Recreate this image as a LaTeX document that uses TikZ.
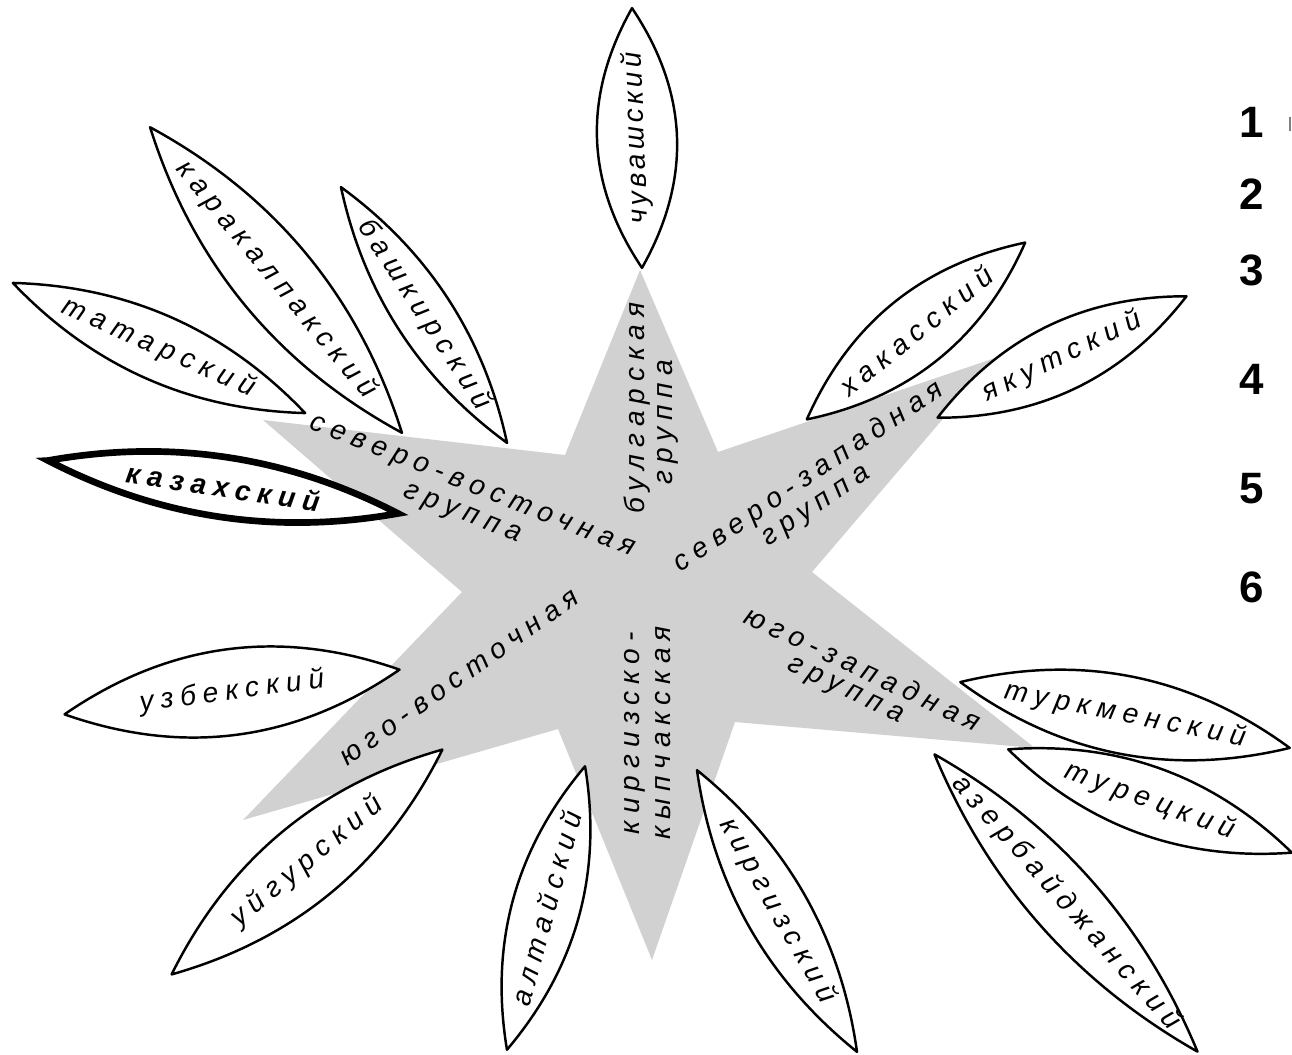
\documentclass[tikz,border=0pt]{standalone}
\usepackage{fontspec}
\setmainfont{Liberation Sans}
\newfontfamily\lblfont[LetterSpace=25]{Liberation Sans}
\newfontfamily\lblfontS[LetterSpace=14]{Liberation Sans}
\definecolor{stargray}{gray}{0.82}
\tikzset{
  leafline/.style={draw=black, fill=white, line width=1.4pt, line join=round},
  thickleaf/.style={line width=3.8pt, line join=miter},
  lbl/.style={font=\lblfont\itshape\fontsize{16}{16}\selectfont, inner sep=0pt},
  lblS/.style={font=\lblfontS\itshape\fontsize{16}{16}\selectfont, inner sep=0pt},
  boldlbl/.style={font=\lblfont\bfseries\itshape\fontsize{16}{16}\selectfont, inner sep=0pt},
  grp/.style={font=\lblfont\itshape\fontsize{16}{16}\selectfont, inner sep=0pt},
  num/.style={font=\bfseries\fontsize{25}{25}\selectfont, inner sep=0pt}
}
% #1 extra leaf style, #2 name, #3 cx, #4 cy, #5 angle, #6 length, #7 half thickness, #8 text, #9 text style
\newcommand{\drawleaf}[9][]{%
  \begin{scope}[shift={(#3,#4)}, rotate=#5]
    \draw[leafline,#1] (-#6/2,0) .. controls (-#6/6,4*#7/3) and (#6/6,4*#7/3) .. (#6/2,0)
      .. controls (#6/6,-4*#7/3) and (-#6/6,-4*#7/3) .. cycle;
  \end{scope}
  \node[#9, rotate=#5] (#2) at (#3,#4) {#8};
}
\begin{document}
\begin{tikzpicture}[x=0.02cm, y=-0.02cm]
\useasboundingbox (0,0) rectangle (1292,1055);

% gray star
\coordinate (s1) at (640,270);
\coordinate (s2) at (718,452);
\coordinate (s3) at (995,358);
\coordinate (s4) at (812,572);
\coordinate (s5) at (1035,748);
\coordinate (s6) at (735,722);
\coordinate (s7) at (652,960);
\coordinate (s8) at (558,729);
\coordinate (s9) at (243,820);
\coordinate (s10) at (462,592);
\coordinate (s11) at (263,420);
\coordinate (s12) at (565,455);
\fill[stargray] (s1) -- (s2) -- (s3) -- (s4) -- (s5) -- (s6) -- (s7) -- (s8) -- (s9) -- (s10) -- (s11) -- (s12) -- cycle;

% leaves
\drawleaf{chuv}{637}{138}{92.2}{260}{40}{чувашский}{lblS}
\drawleaf{karak}{276}{280}{-50.5}{396}{40}{каракалпакский}{lbl}
\drawleaf{bashk}{424}{315}{-57}{305}{29}{башкирский}{lbl}
\drawleaf{tatar}{159}{348}{-24}{320}{33}{татарский}{lbl}
\drawleaf[thickleaf]{kazakh}{223}{487}{-8.6}{354}{30}{казахский}{boldlbl}
\drawleaf{khakas}{916}{331}{39}{281}{36}{хакасский}{lbl}
\drawleaf{yakut}{1062}{357}{26}{277}{34}{якутский}{lbl}
\drawleaf{uzbek}{232}{692}{7.6}{338}{43}{узбекский}{lbl}
\drawleaf{uigur}{307}{862}{39.7}{352}{39}{уйгурский}{lbl}
\drawleaf{altai}{546}{908}{74.6}{294}{34}{алтайский}{lbl}
\drawleaf{kirgiz}{777}{911}{-60.4}{324}{32}{киргизский}{lbl}
\drawleaf{turkmen}{1125}{715}{-11.3}{336}{39}{туркменский}{lbl}
\drawleaf{turk}{1150}{801}{-20}{302}{34}{турецкий}{lbl}
\drawleaf{azerb}{1066}{903}{-48.5}{397}{34}{азербайджанский}{lbl}

% group labels
\node[grp, rotate=90] (bulgA) at (637,408) {булгарская};
\node[grp, rotate=90] (bulgB) at (668,422) {группа};
\node[grp, rotate=-21.6] (svA) at (472,488) {северо-восточная};
\node[grp, rotate=-21.6] (svB) at (462,515) {группа};
\node[grp, rotate=34] (szA) at (809,477) {северо-западная};
\node[grp, rotate=34] (szB) at (817,508) {группа};
\node[grp, rotate=-25.3] (yzA) at (863,668) {юго-западная};
\node[grp, rotate=-25.3] (yzB) at (845,692) {группа};
\node[grp, rotate=90] (kkA) at (635,733) {киргизско-};
\node[grp, rotate=90] (kkB) at (663,733) {кыпчакская};
\node[grp, rotate=35.3] (yv) at (460,678) {юго-восточная};

% numbers
\node[num] (n1) at (1252,122) {1};
\node[num] (n2) at (1252,194) {2};
\node[num] (n3) at (1252,270) {3};
\node[num] (n4) at (1252,379) {4};
\node[num] (n5) at (1252,489) {5};
\node[num] (n6) at (1252,587) {6};
\coordinate (tickA) at (1290,117);
\coordinate (tickB) at (1290,131);
\draw[gray, line width=0.8pt] (tickA) -- (tickB);
\end{tikzpicture}
\end{document}
